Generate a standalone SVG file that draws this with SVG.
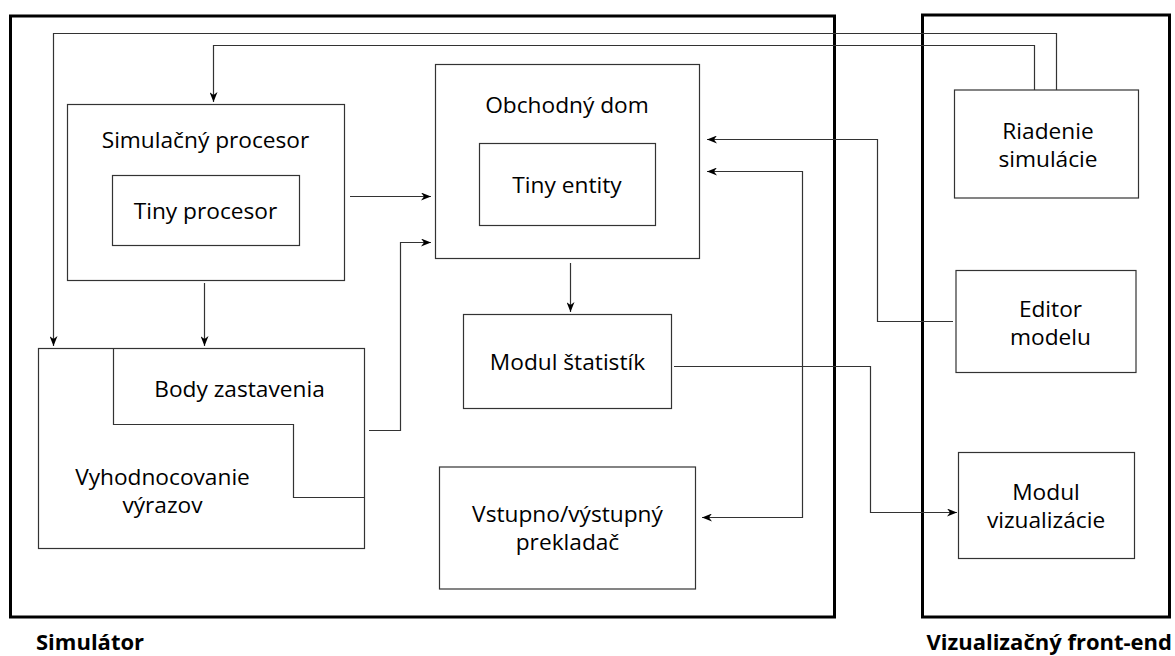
<svg xmlns="http://www.w3.org/2000/svg" width="1175" height="656" viewBox="0 0 1175 656">
  <style>
    .frame { fill: none; stroke: #000; stroke-width: 3; }
    .box { fill: #fff; stroke: #333; stroke-width: 1.2; }
    .wire { fill: none; stroke: #333; stroke-width: 1.2; }
    .label { font-family: "Open Sans", "Noto Sans", sans-serif; font-size: 22.7px; fill: #000; text-anchor: middle; }
    .title { font-family: "Open Sans", "Noto Sans", sans-serif; font-size: 22px; font-weight: bold; fill: #000; }
  </style>
  <defs>
    <marker id="arrow" markerUnits="userSpaceOnUse" markerWidth="11" markerHeight="8" refX="10" refY="4" orient="auto-start-reverse">
      <path d="M0,0 L10,4 L0,8 L3,4 z" fill="#000"/>
    </marker>
  </defs>

  <rect width="1175" height="656" fill="#fff"/>

  <!-- subsystem frames -->
  <g id="simulator">
    <rect class="frame" x="10.5" y="16" width="824" height="601"/>
    <text class="title" x="36" y="650">Simulátor</text>
  </g>
  <g id="frontend">
    <rect class="frame" x="922.5" y="15" width="247" height="602"/>
    <text class="title" x="1172" y="650" text-anchor="end">Vizualizačný front-end</text>
  </g>

  <!-- connectors -->
  <g id="connectors">
    <path class="wire" d="M1056.5,90 V33.5 H53.5 V346" marker-end="url(#arrow)"/>
    <path class="wire" d="M1034.5,90 V45.5 H213.5 V102" marker-end="url(#arrow)"/>
    <path class="wire" d="M350,196.5 H431" marker-end="url(#arrow)"/>
    <path class="wire" d="M369,430.5 H400.5 V242.5 H431" marker-end="url(#arrow)"/>
    <path class="wire" d="M953,321.5 H877.5 V139.5 H707" marker-end="url(#arrow)"/>
    <path class="wire" d="M707,171.5 H802.5 V517.5 H702" marker-start="url(#arrow)" marker-end="url(#arrow)"/>
    <path class="wire" d="M570.5,263 V312" marker-end="url(#arrow)"/>
    <path class="wire" d="M674,366.5 H870.5 V512.5 H957" marker-end="url(#arrow)"/>
    <path class="wire" d="M204.5,283 V346" marker-end="url(#arrow)"/>
  </g>

  <!-- simulator nodes -->
  <g id="simulacny-procesor">
    <rect class="box" x="67.5" y="104.5" width="277" height="176"/>
    <text class="label" x="205.5" y="148">Simulačný procesor</text>
  </g>
  <g id="tiny-procesor">
    <rect class="box" x="112.5" y="175.5" width="187" height="70"/>
    <text class="label" x="205.5" y="219">Tiny procesor</text>
  </g>

  <g id="obchodny-dom">
    <rect class="box" x="435.5" y="64.5" width="264" height="194"/>
    <text class="label" x="567" y="113">Obchodný dom</text>
  </g>
  <g id="tiny-entity">
    <rect class="box" x="479.5" y="143.5" width="176" height="82"/>
    <text class="label" x="567" y="193">Tiny entity</text>
  </g>

  <g id="modul-statistik">
    <rect class="box" x="463.5" y="314.5" width="208" height="94"/>
    <text class="label" x="567.5" y="370">Modul štatistík</text>
  </g>

  <g id="vyhodnocovanie-vyrazov">
    <rect class="box" x="38.5" y="348.5" width="326" height="200"/>
    <text class="label" x="162.5" y="485">Vyhodnocovanie</text>
    <text class="label" x="162.5" y="513">výrazov</text>
  </g>
  <g id="body-zastavenia">
    <path class="wire" d="M113.5,348.5 V424.5 H293.5 V497.5 H364.5"/>
    <text class="label" x="239.5" y="397">Body zastavenia</text>
  </g>

  <g id="vstupno-vystupny-prekladac">
    <rect class="box" x="439.5" y="467" width="256" height="122"/>
    <text class="label" x="567.5" y="522">Vstupno/výstupný</text>
    <text class="label" x="567.5" y="550">prekladač</text>
  </g>

  <!-- front-end nodes -->
  <g id="riadenie-simulacie">
    <rect class="box" x="954.5" y="90" width="184" height="108"/>
    <text class="label" x="1048" y="139">Riadenie</text>
    <text class="label" x="1048" y="167">simulácie</text>
  </g>
  <g id="editor-modelu">
    <rect class="box" x="956" y="270.5" width="180" height="102"/>
    <text class="label" x="1050.5" y="317">Editor</text>
    <text class="label" x="1050.5" y="345">modelu</text>
  </g>
  <g id="modul-vizualizacie">
    <rect class="box" x="958.5" y="452.5" width="176" height="106"/>
    <text class="label" x="1046" y="500">Modul</text>
    <text class="label" x="1046" y="528">vizualizácie</text>
  </g>
</svg>
